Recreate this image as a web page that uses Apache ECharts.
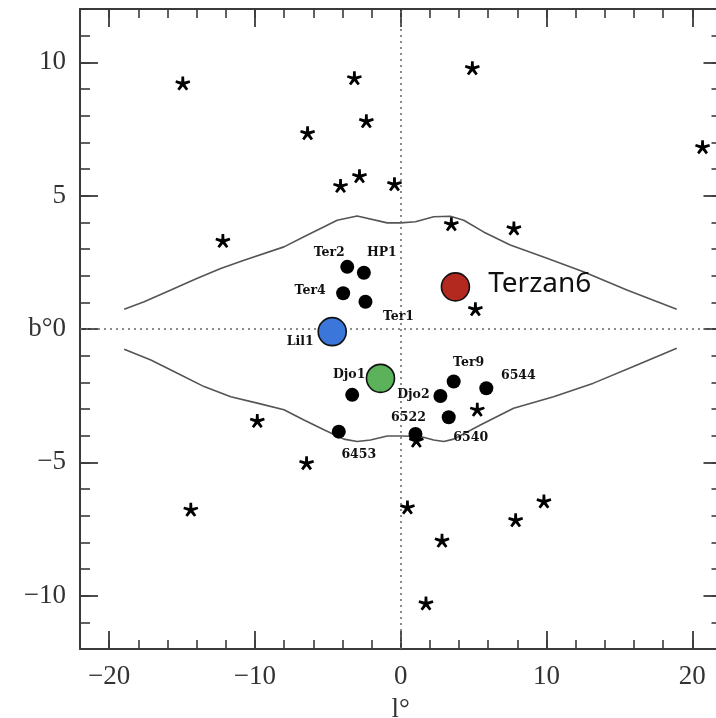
<!DOCTYPE html>
<html>
<head>
<meta charset="utf-8">
<script src="https://cdn.jsdelivr.net/npm/echarts@6/dist/echarts.min.js"></script>
<style>
  html, body { margin: 0; padding: 0; background: #fff; }
  #chart { width: 716px; height: 718px; }
</style>
</head>
<body>
<div id="chart"></div>
<script>
// Field stars (galactic longitude l, latitude b in degrees)
const starL = [-14.95, -3.18, 4.91, -6.39, -2.36, 20.7, -4.13, -2.83, -0.43, -12.2, 3.47, 7.76, 5.12,
               -9.84, -6.46, -14.4, 5.25, 1.07, 0.46, 2.83, 7.88, 9.82, 1.73];
const starB = [9.21, 9.40, 9.78, 7.34, 7.79, 6.82, 5.36, 5.73, 5.43, 3.30, 3.93, 3.77, 0.74,
               -3.45, -5.03, -6.78, -3.03, -4.19, -6.69, -7.94, -7.17, -6.47, -10.29];

// Bulge globular clusters
const gcNames = ['Ter2', 'HP1', 'Ter4', 'Ter1', 'Djo1', '6453', 'Ter9', '6544', 'Djo2', '6540', '6522'];
const gcL = [-3.67, -2.53, -3.95, -2.42, -3.33, -4.25, 3.63, 5.87, 2.72, 3.29, 1.01];
const gcB = [2.33, 2.11, 1.34, 1.02, -2.47, -3.85, -1.97, -2.22, -2.51, -3.31, -3.94];

// Highlighted clusters
const bigNames = ['Lil1', 'Terzan6', ''];
const bigL = [-4.70, 3.75, -1.39];
const bigB = [-0.10, 1.58, -1.85];

// Bulge boundary, upper and lower contours
const upperL = [-18.97, -17.60, -15.77, -13.95, -12.35, -10.75, -8.01, -6.64, -4.36, -2.99, -0.93, 0, 1.01,
                2.26, 3.40, 4.32, 5.68, 7.51, 10.03, 12.53, 15.51, 18.93];
const upperB = [0.74, 1.02, 1.46, 1.90, 2.27, 2.58, 3.08, 3.46, 4.08, 4.24, 3.98, 3.98, 4.02,
                4.21, 4.23, 4.08, 3.64, 3.15, 2.65, 2.15, 1.46, 0.74];
const lowerL = [-18.97, -17.14, -15.32, -13.49, -11.66, -9.84, -8.01, -6.64, -5.27, -3.90, -2.99, -2.08, -0.93, 0,
                1.35, 2.26, 2.95, 3.63, 5.46, 7.74, 10.48, 13.22, 15.96, 18.93];
const lowerB = [-0.76, -1.16, -1.66, -2.16, -2.54, -2.78, -3.03, -3.41, -3.78, -4.13, -4.22, -4.16, -4.01, -4.01,
                -4.03, -4.16, -4.22, -4.13, -3.60, -2.97, -2.54, -2.03, -1.41, -0.72];

// Labelled tick values
const xTicks = [-20, -10, 0, 10, 20];
const yTicks = [-10, -5, 0, 5, 10];

// ---- styling ----
const frameColor = '#3a3a3a';
const tickFont = { fontFamily: 'Liberation Serif', fontSize: 27, color: '#333' };
const gcLabelOffset = {
  Ter2: [-18, -14], HP1: [18, -20], Ter4: [-33, -3], Ter1: [33, 15], Djo1: [-3, -20],
  '6453': [20, 23], Ter9: [15, -19], '6544': [32, -12], Djo2: [-27, -1], '6540': [22, 20], '6522': [-7, -16]
};
const bigColors = ['#3b76da', '#b3281f', '#5cb25a'];
const bigLabelStyle = {
  Lil1: { position: 'inside', offset: [-32, 10], fontFamily: 'DejaVu Serif', fontWeight: 'bold', fontSize: 12.5, color: '#111' },
  Terzan6: { position: 'right', distance: 18, offset: [0, -3], fontFamily: 'Noto Sans', fontSize: 28, color: '#111' }
};

// Five-armed asterisk outline, arms tapering toward the tips
function asteriskPath(arms, w) {
  let d = '';
  const c = 50, r = 50;
  for (let k = 0; k < arms; k++) {
    const a = -Math.PI / 2 + 2 * Math.PI * k / arms;
    const dx = Math.cos(a), dy = Math.sin(a);
    const px = -dy, py = dx;
    const h0 = w * r / 2, h1 = w * r / 2.6;
    const b0x = c - dx * h0 * 0.6, b0y = c - dy * h0 * 0.6;
    const tx = c + dx * r, ty = c + dy * r;
    const pts = [
      [b0x + px * h0, b0y + py * h0],
      [tx + px * h1, ty + py * h1],
      [tx - px * h1, ty - py * h1],
      [b0x - px * h0, b0y - py * h0]
    ];
    d += 'M' + pts.map(p => p[0].toFixed(2) + ' ' + p[1].toFixed(2)).join('L') + 'Z';
  }
  return 'path://' + d;
}

const fmt = v => (v === 0 ? '0' : String(v).replace('-', '\u2212'));
const fmtY = v => (v === 0 ? 'b\u00b00' : String(v).replace('-', '\u2212'));

function minorAxis(pos, min, max, interval, len, showLine) {
  return {
    type: 'value', position: pos, min: min, max: max, interval: interval,
    axisLine: { show: showLine !== false, onZero: false, lineStyle: { color: frameColor, width: 2 } },
    axisTick: { show: true, inside: true, length: len, lineStyle: { color: frameColor, width: 1.6 } },
    axisLabel: { show: false },
    splitLine: { show: false }
  };
}
function majorAxis(pos, min, max, ticks, labels, formatter, extra) {
  return Object.assign({
    type: 'value', position: pos, min: min, max: max,
    axisLine: { show: false, onZero: false },
    axisTick: { show: true, inside: true, length: 18, customValues: ticks, lineStyle: { color: frameColor, width: 1.8 } },
    axisLabel: Object.assign({ show: labels, customValues: ticks, formatter: formatter, margin: 14 }, tickFont),
    splitLine: { show: false }
  }, extra || {});
}

const chart = echarts.init(document.getElementById('chart'), null, { renderer: 'canvas' });

const option = {
  backgroundColor: '#fff',
  animation: false,
  grid: { left: 80, top: 9, width: 641.5, height: 640, containLabel: false, outerBoundsMode: 'none' },
  xAxis: [
    minorAxis('bottom', -22, 22, 2, 9),
    majorAxis('bottom', -22, 22, xTicks, true, fmt, {
      name: 'l\u00b0', nameLocation: 'middle', nameGap: 47,
      nameTextStyle: { fontFamily: 'Liberation Serif', fontSize: 27, color: '#333' }
    }),
    minorAxis('top', -22, 22, 2, 9),
    majorAxis('top', -22, 22, xTicks, false, fmt)
  ],
  yAxis: [
    minorAxis('left', -12, 12, 1, 10),
    majorAxis('left', -12, 12, yTicks, true, fmtY),
    minorAxis('right', -12, 12, 1, 10, false),
    majorAxis('right', -12, 12, yTicks, false, fmtY)
  ],
  series: [
    {
      type: 'line', name: 'upper', xAxisIndex: 0, yAxisIndex: 0,
      data: upperL.map((l, i) => [l, upperB[i]]),
      showSymbol: false, symbol: 'none', silent: true,
      lineStyle: { color: '#555', width: 1.6 },
      markLine: {
        silent: true, symbol: 'none', label: { show: false },
        lineStyle: { type: [2, 4], color: '#666', width: 1.5 },
        data: [{ xAxis: 0 }, { yAxis: 0 }]
      },
      z: 2
    },
    {
      type: 'line', name: 'lower', xAxisIndex: 0, yAxisIndex: 0,
      data: lowerL.map((l, i) => [l, lowerB[i]]),
      showSymbol: false, symbol: 'none', silent: true,
      lineStyle: { color: '#555', width: 1.6 },
      z: 2
    },
    {
      type: 'scatter', name: 'stars', xAxisIndex: 0, yAxisIndex: 0,
      data: starL.map((l, i) => [l, starB[i]]),
      symbol: asteriskPath(5, 0.46), symbolSize: [15, 14],
      itemStyle: { color: '#000', opacity: 1 },
      z: 3
    },
    {
      type: 'scatter', name: 'clusters', xAxisIndex: 0, yAxisIndex: 0,
      data: gcL.map((l, i) => ({
        value: [l, gcB[i]], name: gcNames[i],
        label: { offset: gcLabelOffset[gcNames[i]] }
      })),
      symbol: 'circle', symbolSize: 14,
      itemStyle: { color: '#000', opacity: 1 },
      label: {
        show: true, position: 'inside', formatter: p => p.name,
        fontFamily: 'DejaVu Serif', fontWeight: 'bold', fontSize: 12.5, color: '#111'
      },
      z: 4
    },
    {
      type: 'scatter', name: 'highlight', xAxisIndex: 0, yAxisIndex: 0,
      data: bigL.map((l, i) => ({
        value: [l, bigB[i]], name: bigNames[i],
        itemStyle: { color: bigColors[i] },
        label: bigNames[i] ? Object.assign({ show: true }, bigLabelStyle[bigNames[i]]) : { show: false }
      })),
      symbol: 'circle', symbolSize: 28,
      itemStyle: { borderColor: '#111', borderWidth: 1.6, opacity: 1 },
      label: { formatter: p => p.name },
      z: 5
    }
  ]
};

chart.setOption(option);
</script>
</body>
</html>
